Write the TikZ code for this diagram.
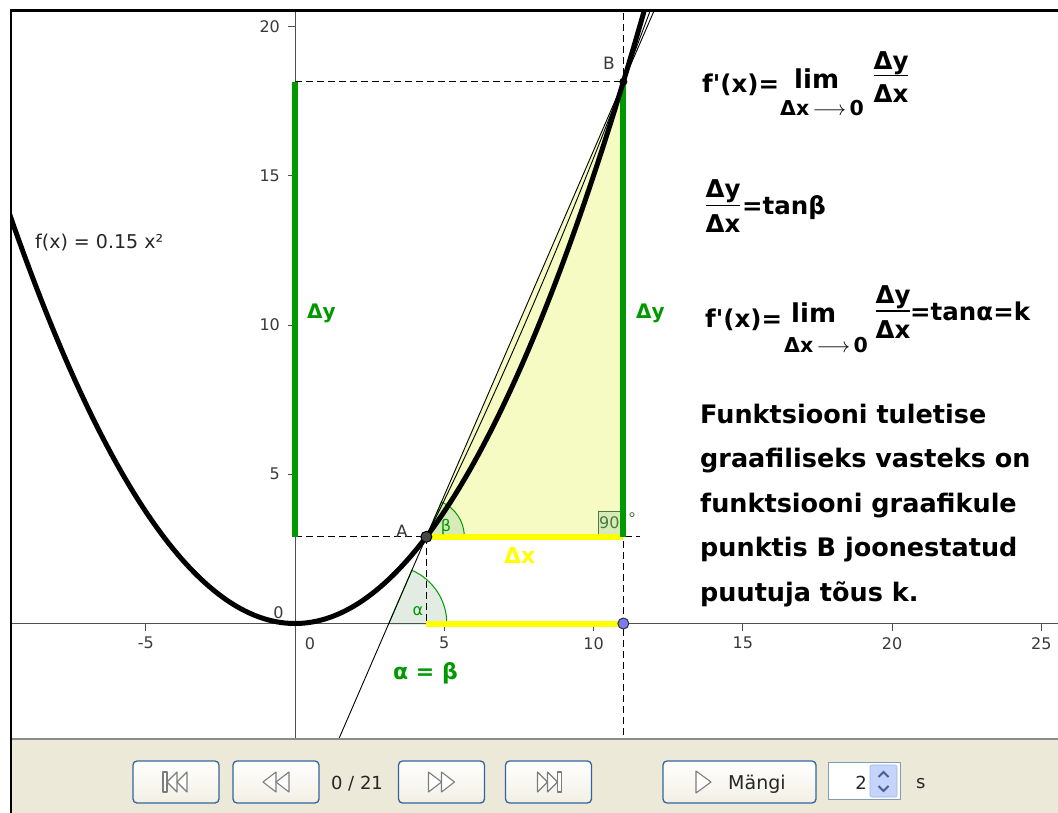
\documentclass[tikz,border=0pt]{standalone}
\usepackage{fontspec}
\setmainfont{DejaVu Sans}
\definecolor{ggreen}{HTML}{009900}
\definecolor{gyellow}{HTML}{FFFF00}
\definecolor{triyel}{HTML}{F5FBC3}
\definecolor{alphafill}{HTML}{E3ECE3}
\definecolor{betafill}{HTML}{D7EBB8}
\definecolor{axcol}{HTML}{505050}
\definecolor{labgray}{HTML}{3A3A3A}
\definecolor{tbgray}{HTML}{ECE9D8}
\definecolor{btnblue}{HTML}{3464A0}
\definecolor{icongray}{HTML}{7D7D7D}
\definecolor{ptblue}{HTML}{7B7BF2}
\definecolor{angtxt}{HTML}{4E7A3E}
\definecolor{spinblue}{HTML}{C4D4FC}
\definecolor{spinarrow}{HTML}{4A5F8C}
\definecolor{fieldborder}{HTML}{7F9DB9}
\begin{document}
\begin{tikzpicture}[x=1pt,y=-1pt,
  axlbl/.style={inner sep=0pt, font=\fontsize{16}{18}\selectfont, text=labgray},
  frm/.style={inner sep=0pt, anchor=base west, font=\fontsize{24.5}{28}\selectfont\bfseries},
  fracpart/.style={inner sep=0pt, anchor=base, font=\fontsize{24.5}{28}\selectfont\bfseries},
  limtxt/.style={inner sep=0pt, anchor=base west, font=\fontsize{26}{30}\selectfont\bfseries},
  subtxt/.style={inner sep=0pt, anchor=base west, font=\fontsize{20.5}{24}\selectfont\bfseries},
  para/.style={inner sep=0pt, anchor=base west, font=\fontsize{25.5}{30}\selectfont\bfseries},
  gl/.style={inner sep=0pt, anchor=base west, font=\fontsize{20}{24}\selectfont\bfseries, text=ggreen},
  dashln/.style={line width=1pt, dash pattern=on 7pt off 4pt},
  tbtn/.style={draw=btnblue, line width=1.3pt, rounded corners=4pt, top color=white, bottom color=tbgray!70!white, minimum width=86pt, minimum height=42pt, inner sep=0pt},
  icon/.style={draw=icongray, fill=white, line width=1.1pt, line join=round},
  tbtxt/.style={inner sep=0pt, font=\fontsize{18}{20}\selectfont, text=black!85}
]
\useasboundingbox (0,0) rectangle (1058,813);
\fill[white] (0,0) rectangle (1058,813);
\fill[tbgray] (10,739) rectangle (1058,813);

\begin{scope}
\clip (11.5,11.5) rectangle (1058,738.5);
\begin{scope}[shift={(295,623.5)}, x=29.85pt, y=29.85pt]
  \coordinate (O) at (0,0);
  \coordinate (A) at (4.4,2.904);
  \coordinate (B) at (11,18.15);
  \coordinate (Cc) at (11,2.904);
  \coordinate (C) at (11,0);
  \coordinate (Ax) at (4.4,0);
  \coordinate (P) at (3.1429,0);
  \coordinate (yA) at (0,2.904);
  \coordinate (yB) at (0,18.15);
  \coordinate (sb) at (1.35,-4.141);
  \coordinate (st) at (12.2,20.922);
  \coordinate (dR) at (11.56,2.904);
  \coordinate (vT) at (11,20.7);
  \coordinate (vB) at (11,-4.1);

  \fill[triyel] (A) -- (Cc) -- (B) -- cycle;
  \filldraw[fill=alphafill, draw=ggreen, line width=1pt] (P) -- ++(1.943,0) arc[start angle=0, end angle={atan(2.31)}, radius=1.943] -- cycle;
  \filldraw[fill=betafill, draw=ggreen, line width=1pt] (A) -- ++(1.273,0) arc[start angle=0, end angle={atan(2.31)}, radius=1.273] -- cycle;
  \filldraw[fill=betafill, draw=angtxt, line width=1pt] (Cc) rectangle ++(-0.84,0.84);

  \draw[axcol, line width=1pt] (-9.7,0) -- (25.7,0);
  \draw[axcol, line width=1pt] (0,-4.1) -- (0,20.7);
  \foreach \t in {-5,5,10,15,20,25} {
    \draw[axcol, line width=1pt] (\t,0) -- ++(0,-0.25);
    \node[axlbl] (xl\t) at (\t,-0.66) {\t};
  }
  \foreach \t in {5,10,15,20} {
    \draw[axcol, line width=1pt] (0,\t) -- ++(-0.25,0);
    \node[axlbl, anchor=east] (yl\t) at (-0.5,\t) {\t};
  }
  \node[axlbl] (xl0) at (0.5,-0.66) {0};
  \node[axlbl, anchor=east] (yl0) at (-0.38,0.35) {0};

  \draw[dashln] (yB) -- (B);
  \draw[dashln] (yA) -- (dR);
  \draw[dashln] (vB) -- (vT);
  \draw[dashln] (A) -- (Ax);

  \draw[gyellow, line width=6pt] (A) -- (Cc);
  \draw[gyellow, line width=6pt] (Ax) -- (C);
  \draw[ggreen, line width=6pt] (yA) -- (yB);
  \draw[ggreen, line width=6pt] (Cc) -- (B);

  \draw[line width=0.9pt] (sb) -- (st);
  \draw[line width=0.9pt] plot[domain=4.4:12.2, samples=60, smooth] (\x, {1.617*(\x-3.1429)+0.045*\x*\x});
  \draw[line width=5pt, line cap=round] plot[domain=-9.7:11.95, samples=200, smooth] (\x,{0.15*\x*\x});

  \filldraw[fill=black!72, draw=black, line width=1pt] (A) circle[radius=5.5pt];
  \fill (B) circle[radius=4pt];
  \filldraw[fill=ptblue, draw=black!80, line width=1pt] (C) circle[radius=5.5pt];
\end{scope}
\end{scope}

% frame
\draw[black!45, line width=1.2pt] (12,739) -- (1058,739);
\draw[line width=2.5pt] (10.75,813) -- (10.75,10.75) -- (1058,10.75);

% graph labels
\node[axlbl, anchor=west, text=black!85, font=\fontsize{19}{22}\selectfont] (flab) at (35,243) {f(x) = 0.15 x²};
\node[axlbl, font=\fontsize{17}{20}\selectfont] (Alab) at (402,531) {A};
\node[axlbl, font=\fontsize{17}{20}\selectfont] (Blab) at (609,63) {B};
\node[axlbl, text=ggreen] (betalab) at (446,527) {β};
\node[axlbl, text=ggreen] (alphalab) at (418,611) {α};
\node[axlbl, anchor=west, text=angtxt] (rlab) at (599,523) {90};
\node[axlbl, anchor=west, text=angtxt] (rdeg) at (628,519) {°};
\node[gl] (dyl) at (307,319) {Δy};
\node[gl] (dyr) at (636,318) {Δy};
\node[gl, text=gyellow, font=\fontsize{22}{26}\selectfont\bfseries] (dxl) at (504,563) {Δx};
\node[gl, font=\fontsize{22}{26}\selectfont\bfseries] (ab) at (393,679) {α = β};

% formula 1
\node[frm] (f1a) at (702,93) {f\textquotesingle(x)=};
\node[limtxt] (f1lim) at (794,89) {lim};
\node[subtxt] (f1sub) at (780,116) {Δx\,$\longrightarrow$\,0};
\node[fracpart] (f1n) at (891,70) {Δy};
\node[fracpart] (f1d) at (891,103) {Δx};
\coordinate (f1bl) at (874,75.7);
\coordinate (f1br) at (908,75.7);
\draw[line width=1.5pt] (f1bl) -- (f1br);

% formula 2
\node[fracpart] (f2n) at (723,198) {Δy};
\node[fracpart] (f2d) at (723,233) {Δx};
\coordinate (f2bl) at (706,205.7);
\coordinate (f2br) at (740,205.7);
\draw[line width=1.5pt] (f2bl) -- (f2br);
\node[frm] (f2t) at (742,215) {=tanβ};

% formula 3
\node[frm] (f3a) at (705,327) {f\textquotesingle(x)=};
\node[limtxt] (f3lim) at (791,322) {lim};
\node[subtxt] (f3sub) at (784,352) {Δx\,$\longrightarrow$\,0};
\node[fracpart] (f3n) at (893,303) {Δy};
\node[fracpart] (f3d) at (893,338) {Δx};
\coordinate (f3bl) at (876,311);
\coordinate (f3br) at (910,311);
\draw[line width=1.5pt] (f3bl) -- (f3br);
\node[frm] (f3t) at (910,320) {=tanα=k};

% paragraph
\node[para] (p1) at (700,423) {Funktsiooni tuletise};
\node[para] (p2) at (700,467.5) {graafiliseks vasteks on};
\node[para] (p3) at (700,512) {funktsiooni graafikule};
\node[para] (p4) at (700,556.5) {punktis B joonestatud};
\node[para] (p5) at (700,601) {puutuja tõus k.};

% toolbar
\node[tbtn] (b1) at (176,782) {};
\node[tbtn] (b2) at (276,782) {};
\node[tbtn] (b3) at (441.5,782) {};
\node[tbtn] (b4) at (548.5,782) {};
\node[tbtn, minimum width=153pt] (mb) at (739.5,782) {};
\begin{scope}[shift={(b1.center)}]
  \draw[icon] (-13,-10) rectangle (-9,10);
  \draw[icon] (-9,0) -- (1,-10) -- (1,10) -- cycle;
  \draw[icon] (1,0) -- (11,-10) -- (11,10) -- cycle;
\end{scope}
\begin{scope}[shift={(b2.center)}]
  \draw[icon] (-13,0) -- (0,-10) -- (0,10) -- cycle;
  \draw[icon] (0,0) -- (13,-10) -- (13,10) -- cycle;
\end{scope}
\begin{scope}[shift={(b3.center)}]
  \draw[icon] (-13,-10) -- (0,0) -- (-13,10) -- cycle;
  \draw[icon] (0,-10) -- (13,0) -- (0,10) -- cycle;
\end{scope}
\begin{scope}[shift={(b4.center)}]
  \draw[icon] (-11,-10) -- (-1,0) -- (-11,10) -- cycle;
  \draw[icon] (-1,-10) -- (9,0) -- (-1,10) -- cycle;
  \draw[icon] (9,-10) rectangle (13,10);
\end{scope}
\begin{scope}[shift={(mb.center)}]
  \draw[icon] (-43.5,-11) -- (-28.5,0) -- (-43.5,11) -- cycle;
\end{scope}
\node[tbtxt, anchor=base] (cnt) at (357,789) {0 / 21};
\node[tbtxt, anchor=base west, font=\fontsize{19}{22}\selectfont] (mtxt) at (728,789) {Mängi};
\node[draw=fieldborder, fill=white, line width=1pt, minimum width=72pt, minimum height=37pt, inner sep=0pt] (spin) at (864,780.5) {};
\node[fill=spinblue, draw=spinblue!85!black, line width=0.6pt, rounded corners=2pt, minimum width=27pt, minimum height=32pt, inner sep=0pt] (spb) at (883.5,781) {};
\begin{scope}[shift={(spb.center)}]
  \draw[spinarrow, line width=2pt] (-5,-4) -- (0,-9) -- (5,-4);
  \draw[spinarrow, line width=2pt] (-5,5) -- (0,10) -- (5,5);
\end{scope}
\node[tbtxt, anchor=base east] (spv) at (867,789) {2};
\node[tbtxt, anchor=base west] (sec) at (916,788) {s};
\end{tikzpicture}
\end{document}
